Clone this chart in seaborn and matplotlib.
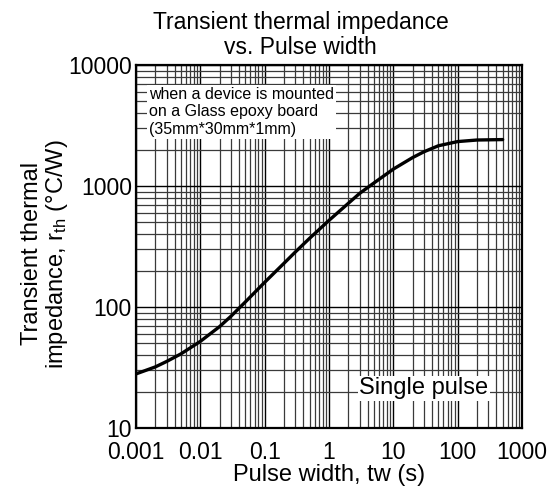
import matplotlib
matplotlib.use("Agg")
import matplotlib.pyplot as plt
import pandas as pd
import seaborn as sns
from matplotlib.ticker import LogLocator, FixedLocator, FixedFormatter, NullFormatter

# values
pulse_width = [0.001, 0.002, 0.003, 0.005, 0.01, 0.02, 0.03, 0.05, 0.1, 0.2, 0.3,
               0.5, 1, 2, 3, 5, 10, 20, 30, 50, 100, 200, 500]
rth = [28, 32, 35.5, 41, 52, 69, 84, 110, 160, 230, 285,
       370, 520, 720, 870, 1060, 1380, 1720, 1920, 2150, 2330, 2400, 2420]

x_ticks = [0.001, 0.01, 0.1, 1, 10, 100, 1000]
x_tick_labels = ["0.001", "0.01", "0.1", "1", "10", "100", "1000"]
y_ticks = [10, 100, 1000, 10000]
y_tick_labels = ["10", "100", "1000", "10000"]

sns.set_style("white")
plt.rcParams["font.family"] = ["Liberation Sans", "DejaVu Sans"]
plt.rcParams["mathtext.fontset"] = "custom"
plt.rcParams["mathtext.rm"] = "Liberation Sans"
plt.rcParams["mathtext.it"] = "Liberation Sans"
for key in ("text.color", "axes.labelcolor", "xtick.color", "ytick.color"):
    plt.rcParams[key] = "black"

df = pd.DataFrame({"tw": pulse_width, "rth": rth})

fig = plt.figure(figsize=(5.51, 4.90), dpi=100)
ax = fig.add_axes([0.2468, 0.1265, 0.9474 - 0.2468, 0.8673 - 0.1265])

sns.lineplot(data=df, x="tw", y="rth", ax=ax, color="black", linewidth=2.4, zorder=5)

ax.set_xscale("log")
ax.set_yscale("log")
ax.set_xlim(0.001, 1000)
ax.set_ylim(10, 10000)

ax.xaxis.set_major_locator(FixedLocator(x_ticks))
ax.xaxis.set_major_formatter(FixedFormatter(x_tick_labels))
ax.yaxis.set_major_locator(FixedLocator(y_ticks))
ax.yaxis.set_major_formatter(FixedFormatter(y_tick_labels))
ax.xaxis.set_minor_locator(LogLocator(base=10, subs=range(2, 10), numticks=20))
ax.yaxis.set_minor_locator(LogLocator(base=10, subs=range(2, 10), numticks=20))
ax.xaxis.set_minor_formatter(NullFormatter())
ax.yaxis.set_minor_formatter(NullFormatter())

ax.grid(which="major", color="black", linewidth=1.0)
ax.grid(which="minor", color="#3a3a3a", linewidth=0.9)
ax.tick_params(which="both", length=0, labelsize=16.5, labelcolor="black")
ax.tick_params(axis="x", pad=9)
ax.tick_params(axis="y", pad=3)

for s in ax.spines.values():
    s.set_color("black")
    s.set_linewidth(1.6)

fig.text(0.546, 0.978, "Transient thermal impedance\nvs. Pulse width", fontsize=16.5,
         ha="center", va="top", linespacing=1.1, color="black")
ax.set_xlabel("Pulse width, tw (s)", fontsize=17, labelpad=0, color="black")
ax.set_ylabel("Transient thermal\nimpedance, r$_{\\mathrm{th}}$ (°C/W)", fontsize=17,
              linespacing=1.05, labelpad=0, color="black")
ax.yaxis.set_label_coords(-0.172, 0.48)

ax.text(0.034, 0.94, "when a device is mounted\non a Glass epoxy board\n(35mm*30mm*1mm)",
        transform=ax.transAxes, fontsize=11.5, va="top", ha="left", linespacing=1.2,
        color="black", bbox=dict(facecolor="white", edgecolor="none", pad=1.5), zorder=6)
ax.text(0.745, 0.11, "Single pulse", transform=ax.transAxes, fontsize=17,
        va="center", ha="center", color="black",
        bbox=dict(facecolor="white", edgecolor="none", pad=1.0), zorder=6)

fig.savefig("out.png", dpi=100)
